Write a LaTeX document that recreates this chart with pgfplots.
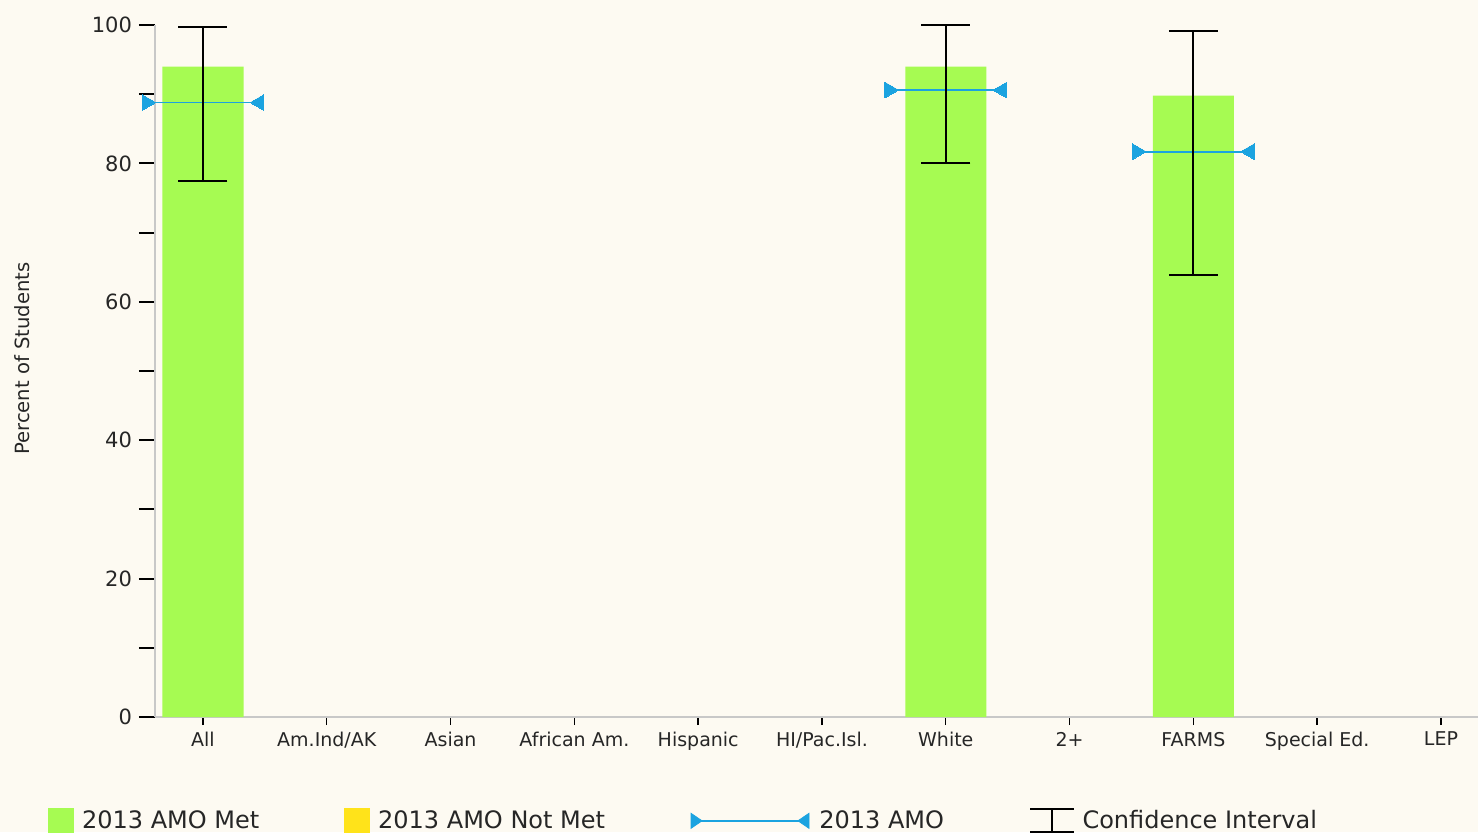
\documentclass[border=0pt]{standalone}
\usepackage{pgfplots}
\pgfplotsset{compat=1.18}
\usepackage{fontspec}
\setmainfont{DejaVu Sans}
\definecolor{bg}{HTML}{FDFAF2}
\definecolor{amogreen}{HTML}{A6FB52}
\definecolor{amoyellow}{HTML}{FFE31A}
\definecolor{amoblue}{HTML}{1BA3E0}
\definecolor{axgray}{HTML}{C8C8C8}
\definecolor{txt}{HTML}{262626}
\begin{document}
\begin{tikzpicture}
\useasboundingbox (-77.5pt,-57.5pt) rectangle (661.5pt,358.5pt);
\clip (-77.5pt,-57.5pt) rectangle (661.5pt,358.5pt);
\fill[bg] (-77.5pt,-57.5pt) rectangle (661.5pt,358.5pt);
\begin{axis}[
  at={(0pt,0pt)}, anchor=south west,
  scale only axis, width=661.5pt, height=346pt,
  xmin=-0.3877, xmax=10.299, ymin=0, ymax=100,
  clip=false,
  axis x line*=bottom, axis y line*=left,
  axis line style={axgray, line width=1pt, -},
  /pgf/number format/assume math mode=true,
  xtick={0,...,10},
  xticklabels={All, Am.Ind/AK, Asian, African Am., Hispanic, HI/Pac.Isl., White, 2+, FARMS, Special Ed., LEP},
  ytick={0,20,...,100},
  minor ytick={10,30,...,90},
  tick align=outside,
  major tick length=8pt, minor tick length=8pt,
  xtick style={black, line width=0.7pt, /pgfplots/major tick length=4pt},
  ytick style={black, line width=1pt},
  minor tick style={black, line width=1pt},
  yticklabel style={font=\fontsize{10.5}{12}\selectfont, text=txt},
  xticklabel style={font=\fontsize{9.5}{11}\selectfont, text=txt, yshift=4pt},
  ylabel={Percent of Students},
  ylabel style={font=\fontsize{9.8}{12}\selectfont, text=txt, at={(axis description cs:-0.1005,0.518)}, anchor=center},
  legend columns=4,
  legend style={at={(axis description cs:-0.0809,-0.150)}, anchor=west, draw=none, fill=none,
    font=\fontsize{12}{14}\selectfont, text=txt, inner sep=0pt,
    /tikz/every even column/.append style={column sep=40.5pt}},
]
% bars
\addplot[ybar, bar width=0.655, fill=amogreen, draw=none, forget plot]
  coordinates {(0,94.0) (6,94.0) (8,89.8)};
% AMO lines
\addplot[amoblue, line width=0.9pt, forget plot] coordinates {(-0.455,88.8) (0.455,88.8)};
\addplot[amoblue, line width=0.9pt, forget plot] coordinates {(5.545,90.6) (6.455,90.6)};
\addplot[amoblue, line width=0.9pt, forget plot] coordinates {(7.545,81.7) (8.455,81.7)};
\addplot[only marks, mark=triangle*, mark size=4.5pt, mark options={rotate=-90, fill=amoblue, draw=amoblue, line width=0pt}, forget plot]
  coordinates {(-0.455,88.8) (5.545,90.6) (7.545,81.7)};
\addplot[only marks, mark=triangle*, mark size=4.5pt, mark options={rotate=90, fill=amoblue, draw=amoblue, line width=0pt}, forget plot]
  coordinates {(0.455,88.8) (6.455,90.6) (8.455,81.7)};
% confidence intervals
\addplot[draw=none, mark=none, forget plot,
  error bars/.cd, y dir=both, y explicit, error mark=-,
  error mark options={rotate=90, draw=black, line width=1pt, mark size=12.25pt},
  error bar style={draw=black, line width=1pt}]
  coordinates {(0,88.58) +- (0,11.17) (6,90.0) +- (0,10.0) (8,81.5) +- (0,17.6)};
% legend
\addlegendimage{legend image code/.code={\fill[amogreen] (0pt,-6pt) rectangle (12.5pt,6pt); \path (14.5pt,0pt);}}
\addlegendentry{2013 AMO Met}
\addlegendimage{legend image code/.code={\fill[amoyellow] (0pt,-6pt) rectangle (12.5pt,6pt); \path (14.5pt,0pt);}}
\addlegendentry{2013 AMO Not Met}
\addlegendimage{legend image code/.code={
  \draw[amoblue, line width=0.9pt] (0pt,0pt) -- (59pt,0pt);
  \fill[amoblue] (0pt,-3.75pt) -- (5.5pt,0pt) -- (0pt,3.75pt) -- cycle;
  \fill[amoblue] (59pt,-3.75pt) -- (53.5pt,0pt) -- (59pt,3.75pt) -- cycle;
  \path (62pt,0pt);}}
\addlegendentry{2013 AMO}
\addlegendimage{legend image code/.code={
  \draw[black, line width=1pt] (0pt,-5.75pt) -- (22pt,-5.75pt) (0pt,5.75pt) -- (22pt,5.75pt) (11pt,-5.75pt) -- (11pt,5.75pt);
  \path (24pt,0pt);}}
\addlegendentry{Confidence Interval}
\end{axis}
\end{tikzpicture}
\end{document}
